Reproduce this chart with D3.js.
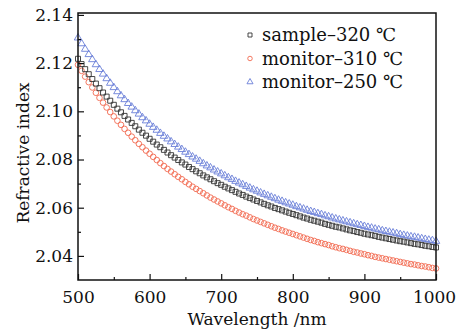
<!DOCTYPE html>
<html>
<head>
<meta charset="utf-8">
<script src="https://cdn.jsdelivr.net/npm/d3@7"></script>
<style>
  body { margin: 0; background: #fff; }
  text { font-family: 'DejaVu Serif', serif; fill: #111; }
</style>
</head>
<body>
<script>
// wavelength grid (nm), one marker every 5 nm
let wavelengths = d3.range(500, 1001, 5)

let sample320 = [
  2.1218, 2.1196, 2.1175, 2.1154, 2.1134, 2.1115, 2.1096, 2.1078, 2.1061, 2.1044,
  2.1027, 2.1011, 2.0996, 2.0981, 2.0966, 2.0952, 2.0938, 2.0924, 2.0911, 2.0899,
  2.0886, 2.0874, 2.0862, 2.0851, 2.0840, 2.0829, 2.0818, 2.0808, 2.0798, 2.0788,
  2.0779, 2.0769, 2.0760, 2.0751, 2.0743, 2.0734, 2.0726, 2.0718, 2.0710, 2.0702,
  2.0695, 2.0687, 2.0680, 2.0673, 2.0666, 2.0659, 2.0653, 2.0646, 2.0640, 2.0634,
  2.0628, 2.0622, 2.0616, 2.0610, 2.0605, 2.0599, 2.0594, 2.0589, 2.0584, 2.0579,
  2.0574, 2.0569, 2.0564, 2.0559, 2.0555, 2.0550, 2.0546, 2.0542, 2.0538, 2.0533,
  2.0529, 2.0525, 2.0521, 2.0518, 2.0514, 2.0510, 2.0506, 2.0503, 2.0499, 2.0496,
  2.0492, 2.0489, 2.0486, 2.0483, 2.0479, 2.0476, 2.0473, 2.0470, 2.0467, 2.0464,
  2.0461, 2.0459, 2.0456, 2.0453, 2.0450, 2.0448, 2.0445, 2.0442, 2.0440, 2.0437,
  2.0435
]
let monitor310 = [
  2.1193, 2.1168, 2.1144, 2.1121, 2.1099, 2.1077, 2.1056, 2.1036, 2.1016, 2.0997,
  2.0979, 2.0961, 2.0944, 2.0927, 2.0911, 2.0895, 2.0880, 2.0865, 2.0851, 2.0837,
  2.0824, 2.0811, 2.0798, 2.0785, 2.0773, 2.0761, 2.0750, 2.0739, 2.0728, 2.0718,
  2.0707, 2.0697, 2.0687, 2.0678, 2.0669, 2.0660, 2.0651, 2.0642, 2.0634, 2.0626,
  2.0618, 2.0610, 2.0602, 2.0595, 2.0587, 2.0580, 2.0573, 2.0567, 2.0560, 2.0553,
  2.0547, 2.0541, 2.0535, 2.0529, 2.0523, 2.0517, 2.0512, 2.0506, 2.0501, 2.0496,
  2.0491, 2.0486, 2.0481, 2.0476, 2.0471, 2.0466, 2.0462, 2.0457, 2.0453, 2.0449,
  2.0445, 2.0440, 2.0436, 2.0432, 2.0429, 2.0425, 2.0421, 2.0417, 2.0414, 2.0410,
  2.0407, 2.0403, 2.0400, 2.0396, 2.0393, 2.0390, 2.0387, 2.0384, 2.0381, 2.0378,
  2.0375, 2.0372, 2.0369, 2.0366, 2.0364, 2.0361, 2.0358, 2.0356, 2.0353, 2.0350,
  2.0348
]
let monitor250 = [
  2.1305, 2.1281, 2.1258, 2.1236, 2.1215, 2.1194, 2.1174, 2.1155, 2.1136, 2.1117,
  2.1099, 2.1082, 2.1065, 2.1049, 2.1033, 2.1018, 2.1003, 2.0989, 2.0974, 2.0961,
  2.0947, 2.0934, 2.0922, 2.0909, 2.0897, 2.0886, 2.0874, 2.0863, 2.0852, 2.0842,
  2.0831, 2.0821, 2.0811, 2.0802, 2.0793, 2.0783, 2.0774, 2.0766, 2.0757, 2.0749,
  2.0741, 2.0733, 2.0725, 2.0718, 2.0710, 2.0703, 2.0696, 2.0689, 2.0682, 2.0675,
  2.0669, 2.0662, 2.0656, 2.0650, 2.0644, 2.0638, 2.0632, 2.0627, 2.0621, 2.0616,
  2.0611, 2.0605, 2.0600, 2.0595, 2.0590, 2.0585, 2.0581, 2.0576, 2.0572, 2.0567,
  2.0563, 2.0558, 2.0554, 2.0550, 2.0546, 2.0542, 2.0538, 2.0534, 2.0530, 2.0527,
  2.0523, 2.0519, 2.0516, 2.0512, 2.0509, 2.0505, 2.0502, 2.0499, 2.0496, 2.0493,
  2.0489, 2.0486, 2.0483, 2.0480, 2.0478, 2.0475, 2.0472, 2.0469, 2.0466, 2.0464,
  2.0461
]

let seriesNames = ['sample\u2013320 \u2103', 'monitor\u2013310 \u2103', 'monitor\u2013250 \u2103']
let xTicks = [500, 600, 700, 800, 900, 1000]
let xMinor = [550, 650, 750, 850, 950]
let yTicks = [2.04, 2.06, 2.08, 2.10, 2.12, 2.14]
let yMinor = [2.05, 2.07, 2.09, 2.11, 2.13]

let width = 456
let height = 331
let plotLeft = 78, plotRight = 436, plotTop = 13, plotBottom = 280

let series = [
  { name: seriesNames[0], values: sample320, color: '#333333', shape: d3.symbolSquare, size: 25 },
  { name: seriesNames[1], values: monitor310, color: '#f26a50', shape: d3.symbolCircle, size: 25 },
  { name: seriesNames[2], values: monitor250, color: '#6a7fd8', shape: d3.symbolTriangle, size: 24 }
]

let x = d3.scaleLinear().domain([500, 1000]).range([plotLeft, plotRight])
let y = d3.scaleLinear().domain([2.03, 2.1408]).range([plotBottom, plotTop])

let svg = d3.select('body')
  .append('svg')
  .attr('width', width)
  .attr('height', height)

// markers (drawn in reverse so the sample series sits on top)
series.slice().reverse().forEach(s => {
  svg.append('g')
    .selectAll('path')
    .data(wavelengths.map((w, i) => [w, s.values[i]]))
    .enter()
    .append('path')
    .attr('d', d3.symbol().type(s.shape).size(s.size))
    .attr('transform', d => 'translate(' + x(d[0]) + ',' + y(d[1]) + ')')
    .attr('fill', 'none')
    .attr('stroke', s.color)
    .attr('stroke-width', 0.9)
})

// axes with inward ticks
let xAxis = svg.append('g')
  .attr('transform', 'translate(0,' + plotBottom + ')')
  .call(d3.axisBottom(x).tickValues(xTicks).tickSize(-6).tickPadding(11).tickFormat(d3.format('d')))
svg.append('g')
  .attr('transform', 'translate(0,' + plotBottom + ')')
  .call(d3.axisBottom(x).tickValues(xMinor).tickSize(-3).tickFormat(''))
svg.append('g')
  .attr('transform', 'translate(' + plotLeft + ',0)')
  .call(d3.axisLeft(y).tickValues(yTicks).tickSize(-6).tickPadding(5).tickFormat(d3.format('.2f')))
svg.append('g')
  .attr('transform', 'translate(' + plotLeft + ',0)')
  .call(d3.axisLeft(y).tickValues(yMinor).tickSize(-3).tickFormat(''))

svg.selectAll('.domain').remove()
svg.selectAll('.tick line').attr('stroke', '#111').attr('stroke-width', 1.2)
svg.selectAll('.tick text')
  .attr('font-family', "'DejaVu Serif', serif")
  .attr('font-size', '17px')
  .attr('fill', '#111')

// keep the last label inside the picture
xAxis.selectAll('.tick text')
  .filter(d => d === 1000)
  .attr('dx', '-2px')

// frame
svg.append('rect')
  .attr('x', plotLeft)
  .attr('y', plotTop)
  .attr('width', plotRight - plotLeft)
  .attr('height', plotBottom - plotTop)
  .attr('fill', 'none')
  .attr('stroke', '#111')
  .attr('stroke-width', 1.5)

// axis titles
svg.append('text')
  .attr('x', (plotLeft + plotRight) / 2)
  .attr('y', 325)
  .attr('text-anchor', 'middle')
  .attr('font-size', '17px')
  .text('Wavelength /nm')

svg.append('text')
  .attr('transform', 'translate(29,153) rotate(-90)')
  .attr('text-anchor', 'middle')
  .attr('font-size', '17px')
  .text('Refractive index')

// legend
let legend = svg.append('g')
  .selectAll('g')
  .data(series)
  .enter()
  .append('g')
  .attr('transform', (d, i) => 'translate(250,' + (35 + i * 23.5) + ')')

legend.append('path')
  .attr('d', d => d3.symbol().type(d.shape).size(16)())
  .attr('fill', 'none')
  .attr('stroke', d => d.color)
  .attr('stroke-width', 0.9)

legend.append('text')
  .attr('x', 12)
  .attr('y', 0)
  .attr('dy', '0.35em')
  .attr('font-size', '18px')
  .text(d => d.name)
</script>
</body>
</html>
